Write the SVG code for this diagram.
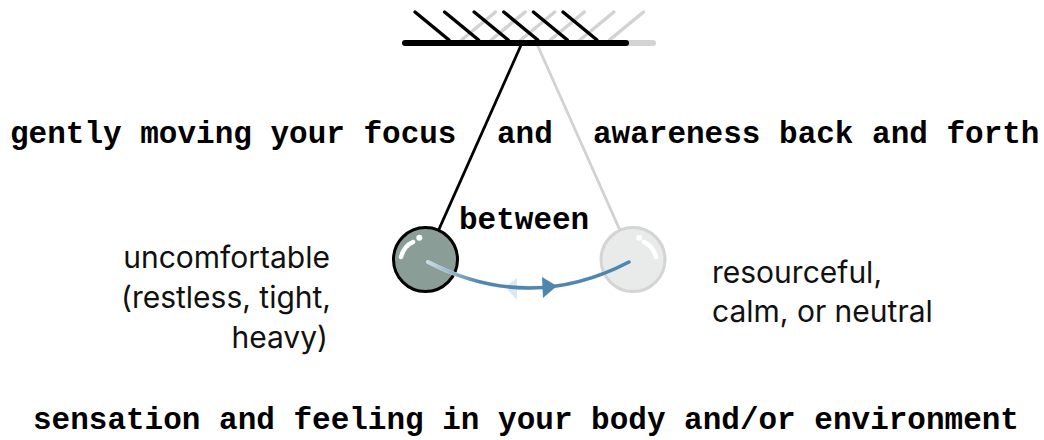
<svg xmlns="http://www.w3.org/2000/svg" width="1044" height="440" viewBox="0 0 1044 440">
<style>
.mono{font-family:"Liberation Mono","Courier New",monospace;font-weight:bold;font-size:31px;fill:#000}
.sans{font-family:Inter,"Noto Sans",sans-serif;font-size:30px;fill:#111}
.hb{stroke:#000;stroke-width:3.5;stroke-linecap:round}
.hg{stroke:#d2d2d2;stroke-width:3.5;stroke-linecap:round}
.hl{fill:none;stroke:#fff;stroke-width:4.5;stroke-linecap:round}
</style>
<defs>
<linearGradient id="fade" gradientUnits="userSpaceOnUse" x1="428" y1="0" x2="480" y2="0">
<stop offset="0" stop-color="#4f86b0" stop-opacity="0.12"/>
<stop offset="1" stop-color="#4f86b0" stop-opacity="1"/>
</linearGradient>
</defs>
<g id="ghost-pendulum">
<line x1="431" y1="43" x2="653" y2="43" stroke="#d4d4d4" stroke-width="6" stroke-linecap="round"/>
<g class="hg">
<line x1="643.5" y1="12" x2="609.5" y2="40"/>
<line x1="613.9" y1="12" x2="579.9" y2="40"/>
<line x1="584.3" y1="12" x2="550.3" y2="40"/>
<line x1="554.7" y1="12" x2="520.7" y2="40"/>
<line x1="525.1" y1="12" x2="491.1" y2="40"/>
<line x1="495.5" y1="12" x2="461.5" y2="40"/>
</g>
<line x1="536.5" y1="43" x2="633" y2="259.5" stroke="#d2d2d2" stroke-width="2.8"/>
<circle cx="633" cy="259.5" r="32" fill="#e9eaea" stroke="#d4d4d4" stroke-width="3"/>
<path class="hl" d="M656,257 Q653,246 644,242"/>
<circle cx="639.2" cy="237.7" r="3" fill="#fff"/>
</g>
<g id="pendulum">
<line x1="405" y1="43" x2="626" y2="43" stroke="#000" stroke-width="6" stroke-linecap="round"/>
<g class="hb">
<line x1="415" y1="12" x2="449" y2="40"/>
<line x1="444.6" y1="12" x2="478.6" y2="40"/>
<line x1="474.2" y1="12" x2="508.2" y2="40"/>
<line x1="503.8" y1="12" x2="537.8" y2="40"/>
<line x1="533.4" y1="12" x2="567.4" y2="40"/>
<line x1="563" y1="12" x2="597" y2="40"/>
</g>
<line x1="522" y1="43" x2="425.5" y2="259.5" stroke="#000" stroke-width="2.8"/>
<circle cx="425.5" cy="259.5" r="32" fill="#8a9d97" stroke="#000" stroke-width="3"/>
<path class="hl" d="M401,257 Q404,246 413,242"/>
<circle cx="419.3" cy="237.7" r="3" fill="#fff"/>
</g>
<g id="connectors">
<path d="M428,262 Q529,314 629,262" fill="none" stroke="#dae5ef" stroke-width="4" stroke-linecap="round"/>
<polygon points="505,287 517,278 517,300" fill="#dde7f0"/>
<path d="M428,262 Q529,314 629,262" fill="none" stroke="url(#fade)" stroke-width="3.5" stroke-linecap="round"/>
<polygon points="557,286 542,277 543,298" fill="#4f86b0"/>
</g>
<g id="labels">
<text class="mono" x="10" y="143">gently moving your focus</text>
<text class="mono" x="497" y="143">and</text>
<text class="mono" x="593" y="143">awareness back and forth</text>
<text class="mono" x="459" y="229">between</text>
<text class="mono" x="33" y="429">sensation and feeling in your body and/or environment</text>
</g>
<g id="left-label">
<text class="sans" text-anchor="end"><tspan x="330" y="268">uncomfortable</tspan><tspan x="331" y="308">(restless, tight,</tspan><tspan x="328" y="348">heavy)</tspan></text>
</g>
<g id="right-label">
<text class="sans"><tspan x="712" y="283">resourceful,</tspan><tspan x="712" y="322">calm, or neutral</tspan></text>
</g>
</svg>
